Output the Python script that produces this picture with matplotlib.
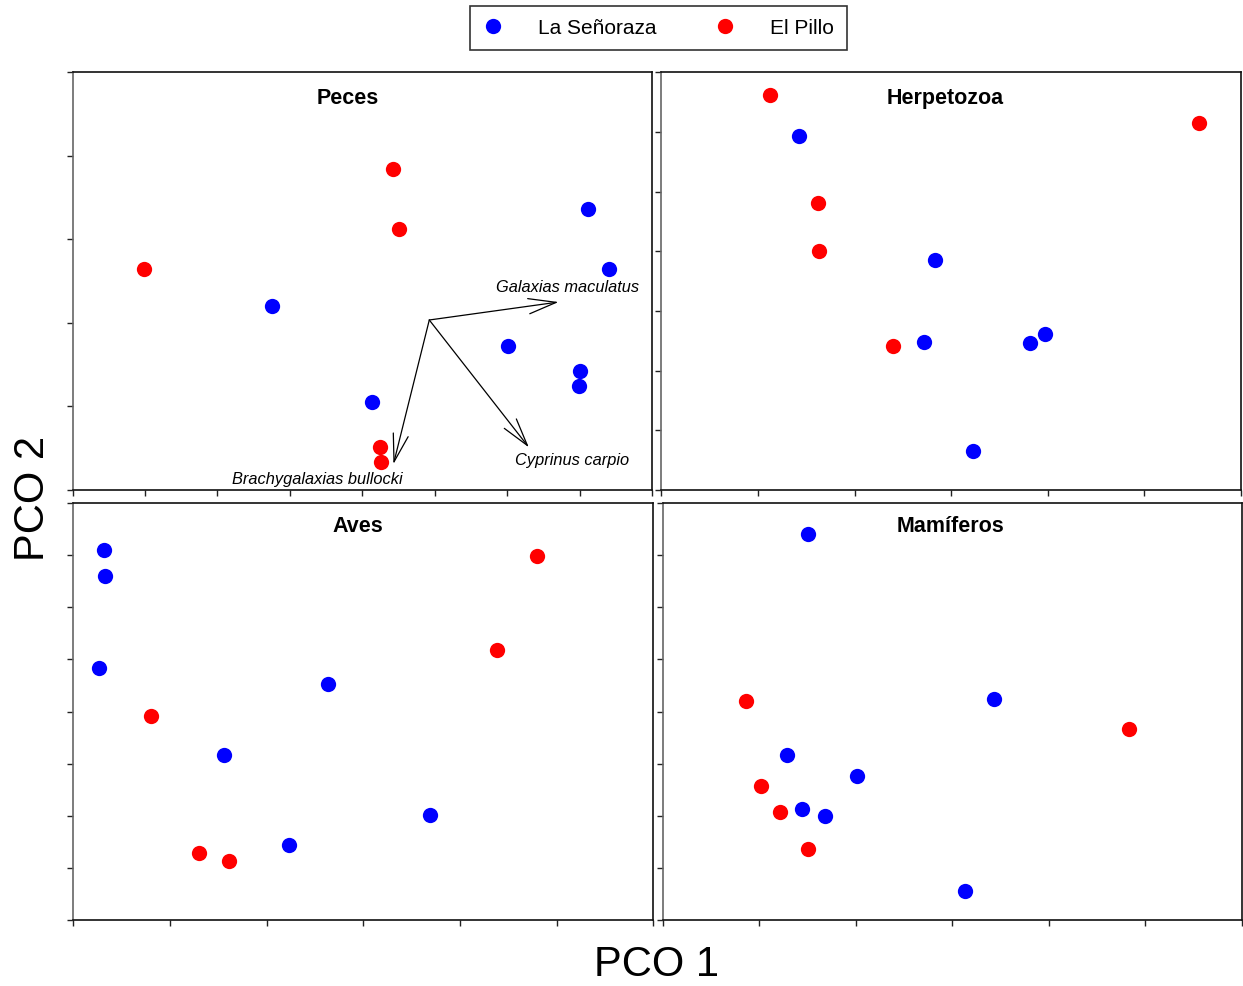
import numpy as np
import matplotlib
matplotlib.use("Agg")
import matplotlib.pyplot as plt
from matplotlib.lines import Line2D

plt.rcParams['font.family'] = ['Liberation Sans', 'DejaVu Sans']

# site names / colours
sites = ["La Señoraza", "El Pillo"]
site_colors = ["#0000ff", "#ff0000"]

# Peces (x in 0..8, y in 0..5)
peces_ls_x = [2.75, 7.12, 7.40, 6.01, 7.00, 6.99, 4.14]
peces_ls_y = [2.20, 3.36, 2.645, 1.72, 1.42, 1.24, 1.05]
peces_ep_x = [0.99, 4.43, 4.50, 4.24, 4.26]
peces_ep_y = [2.645, 3.84, 3.12, 0.52, 0.33]

# species vectors in the Peces panel
vec_origin = (4.925, 2.035)
vec_names = ["Galaxias maculatus", "Cyprinus carpio", "Brachygalaxias bullocki"]
vec_tips_x = [6.71, 6.30, 4.43]
vec_tips_y = [2.25, 0.51, 0.31]
vec_label_x = [6.83, 6.89, 3.38]
vec_label_y = [2.43, 0.37, 0.14]

# Herpetozoa (x 0..6, y 0..7)
herp_ls_x = [1.425, 2.831, 2.716, 3.817, 3.975, 3.221]
herp_ls_y = [5.94, 3.86, 2.48, 2.459, 2.614, 0.659]
herp_ep_x = [1.125, 1.626, 1.634, 2.396, 5.569]
herp_ep_y = [6.62, 4.805, 4.00, 2.418, 6.145]

# Aves (x 0..6, y 0..8)
aves_ls_x = [0.3125, 0.325, 0.262, 2.638, 1.556, 2.230, 3.687]
aves_ls_y = [7.105, 6.595, 4.843, 4.536, 3.163, 1.449, 2.019]
aves_ep_x = [4.793, 4.384, 0.804, 1.299, 1.615]
aves_ep_y = [6.990, 5.182, 3.917, 1.296, 1.131]

# Mamiferos (x 0..6, y 0..8)
mam_ls_x = [1.503, 3.435, 1.289, 2.012, 1.438, 1.684, 3.131]
mam_ls_y = [7.412, 4.248, 3.163, 2.761, 2.140, 2.005, 0.562]
mam_ep_x = [0.862, 4.826, 1.012, 1.209, 1.503]
mam_ep_y = [4.204, 3.668, 2.581, 2.076, 1.373]

W, H = 1243, 987
fig = plt.figure(figsize=(W / 100, H / 100), dpi=100)


def px_axes(x0, x1, ytop, ybot):
    return fig.add_axes([x0 / W, 1 - ybot / H, (x1 - x0) / W, (ybot - ytop) / H])


panels = [
    ("Peces", px_axes(72.6, 652.0, 73.3, 491.0), 8, 5,
     peces_ls_x, peces_ls_y, peces_ep_x, peces_ep_y, 0.475, 0.9385),
    ("Herpetozoa", px_axes(661.4, 1241.1, 73.3, 491.0), 6, 7,
     herp_ls_x, herp_ls_y, herp_ep_x, herp_ep_y, 0.490, 0.9385),
    ("Aves", px_axes(73.4, 653.2, 504.0, 921.3), 6, 8,
     aves_ls_x, aves_ls_y, aves_ep_x, aves_ep_y, 0.490, 0.946),
    ("Mamíferos", px_axes(662.9, 1241.9, 504.0, 921.3), 6, 8,
     mam_ls_x, mam_ls_y, mam_ep_x, mam_ep_y, 0.497, 0.946),
]

ms = 11
for title, ax, nx, ny, lsx, lsy, epx, epy, tx, ty in panels:
    ax.plot(lsx, lsy, 'o', color=site_colors[0], ms=ms, mec='none', clip_on=False)
    ax.plot(epx, epy, 'o', color=site_colors[1], ms=ms, mec='none', clip_on=False)
    ax.set_xlim(0, nx)
    ax.set_ylim(0, ny)
    ax.set_xticks(np.arange(nx + 1))
    ax.set_yticks(np.arange(ny + 1))
    ax.set_xticklabels([])
    ax.set_yticklabels([])
    ax.tick_params(direction='out', length=4.5, width=1.0, color='#222222')
    for s in ax.spines.values():
        s.set_linewidth(1.2)
        s.set_color('#111111')
    ax.spines['left'].set_color('#666666')
    ax.text(tx, ty, title, transform=ax.transAxes, ha='center', va='center',
            fontsize=15.5, fontweight='bold')

# vectors in Peces
ax0 = panels[0][1]
for name, x, y, lx, ly in zip(vec_names, vec_tips_x, vec_tips_y, vec_label_x, vec_label_y):
    ax0.annotate('', xy=(x, y), xytext=vec_origin,
                 arrowprops=dict(arrowstyle='->,head_length=2.0,head_width=0.55',
                                 lw=0.9, color='black', shrinkA=0, shrinkB=0,
                                 mutation_scale=10))
    ax0.text(lx, ly, name, ha='center', va='center', fontsize=11.8, style='italic')

# legend
handles = [Line2D([], [], ls='none', marker='o', ms=ms, color=c, mec='none') for c in site_colors]
leg = fig.legend(handles, sites, loc='center', bbox_to_anchor=(658.5 / W, 1 - 29 / H),
                 ncol=2, fontsize=15, frameon=True, fancybox=False, edgecolor='black',
                 handlelength=1.0, handletextpad=1.66, columnspacing=2.8,
                 borderpad=0.62, borderaxespad=0)
leg.get_frame().set_linewidth(1.2)

fig.text(656.5 / W, 1 - 965 / H, "PCO 1", ha='center', va='center', fontsize=30)
fig.text(33.5 / W, 1 - 498 / H, "PCO 2", ha='center', va='center', fontsize=30, rotation=90)

fig.savefig("out.png", dpi=100)
